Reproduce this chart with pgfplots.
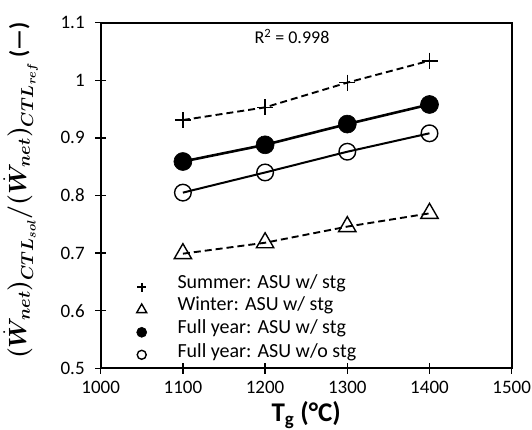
\documentclass[border=0pt]{standalone}
\usepackage{fontspec}
\setmainfont{Carlito}
\usepackage{amsmath}
\usepackage{bm}
\usepackage{pgfplots}
\pgfplotsset{compat=1.18}

\newcommand{\tickfont}{\fontsize{19}{21}\selectfont}
\newcommand{\rfont}{\fontsize{18}{20}\selectfont}
\newcommand{\legfont}{\fontsize{20}{22}\selectfont}
\newcommand{\xlabfont}{\fontsize{27}{29}\selectfont\bfseries}
\newcommand{\ylabfont}{\fontsize{23}{25}\selectfont}

% legend symbol: a single mark inside a fixed 10pt box
\newcommand{\legmark}[2]{%
  \path[draw=none, fill=none] (-5pt,-5pt) rectangle (5pt,5pt);
  \draw[black, solid, #2] plot[mark=#1, #2] coordinates {(0pt,0pt)};}

\begin{document}
\begin{tikzpicture}
\begin{axis}[
  scale only axis,
  width=411pt, height=345.6pt,
  xmin=1000, xmax=1500, ymin=0.5, ymax=1.1,
  xtick={1000,1100,...,1500},
  ytick={0.5,0.6,...,1.1},
  yticklabels={0.5,0.6,0.7,0.8,0.9,1,1.1},
  xticklabels={1000,1100,1200,1300,1400,1500},
  /pgf/number format/assume math mode=true,
  tick align=center,
  major tick length=11pt,
  xtick pos=bottom, ytick pos=left,
  axis line style={line width=1.8pt},
  every tick/.style={line width=1.3pt, black},
  tick label style={font=\tickfont},
  yticklabel style={xshift=-7pt},
  xticklabel style={yshift=-4pt},
  clip=false,
  % legend symbols only; the entry texts are set as nodes below
  legend style={draw=none, fill=none, inner sep=0pt, outer sep=0pt,
    at={(rel axis cs:0,0)}, anchor=south west, xshift=36pt, yshift=5pt,
    row sep=5.5pt,
    nodes={inner sep=0pt, text height=13pt, text depth=4pt}},
]
% Summer, ASU with storage
\addplot[black, line width=1.9pt, dash pattern=on 7pt off 4pt,
  mark=+, mark size=8pt, mark options={solid, line width=1.6pt},
  legend image code/.code={\legmark{+}{mark size=4.5pt, line width=1.2pt}}]
  coordinates {(1100,0.931) (1200,0.953) (1300,0.996) (1400,1.034)};
\addlegendentry{}
% Winter, ASU with storage
\addplot[black, line width=1.9pt, dash pattern=on 7pt off 4pt,
  mark=triangle, mark size=10pt, mark options={solid, line width=1.4pt, fill=white},
  legend image code/.code={\legmark{triangle}{mark size=5.8pt, line width=1.2pt}}]
  coordinates {(1100,0.699) (1200,0.718) (1300,0.746) (1400,0.769)};
\addlegendentry{}
% Full year, ASU with storage
\addplot[black, line width=2.6pt,
  mark=*, mark size=9pt, mark options={solid, fill=black, line width=0.6pt},
  legend image code/.code={\legmark{*}{mark size=5pt, line width=0.6pt, fill=black}}]
  coordinates {(1100,0.859) (1200,0.888) (1300,0.924) (1400,0.958)};
\addlegendentry{}
% Full year, ASU without storage
\addplot[black, line width=2pt,
  mark=o, mark size=8.3pt, mark options={solid, line width=1.4pt, fill=white},
  legend image code/.code={\legmark{o}{mark size=4.5pt, line width=1.2pt}}]
  coordinates {(1100,0.805) (1200,0.840) (1300,0.876) (1400,0.908)};
\addlegendentry{}
% legend texts
\begin{scope}[every node/.style={font=\legfont, anchor=base west, inner sep=0pt}]
\node at ([xshift=76.6pt, yshift=79.3pt]rel axis cs:0,0) {Summer: ASU w/ stg};
\node at ([xshift=76.6pt, yshift=57.3pt]rel axis cs:0,0) {Winter: ASU w/ stg};
\node at ([xshift=76.6pt, yshift=34.3pt]rel axis cs:0,0) {Full year: ASU w/ stg};
\node at ([xshift=76.6pt, yshift=10.8pt]rel axis cs:0,0) {Full year: ASU w/o stg};
\end{scope}
\node[font=\rfont] at (axis cs:1232.7,1.0757) {R\textsuperscript{2} = 0.998};
% axis titles
\node[font=\xlabfont, anchor=base]
  at ([yshift=-53pt]rel axis cs:0.5,0) {T\textsubscript{g} (°C)};
\node[rotate=90, anchor=center, font=\ylabfont]
  at ([xshift=-80pt, yshift=5pt]rel axis cs:0,0.5)
  {$\boldsymbol{(\dot{W}_{net})_{CTL_{sol}}/(\dot{W}_{net})_{CTL_{ref}}}$ \textbf{(---)}};
\coordinate (bl) at (rel axis cs:0,0);
\coordinate (tr) at (rel axis cs:1,1);
\end{axis}
\pgfresetboundingbox
\path ([shift={(-100.7pt,-61.7pt)}]bl) rectangle ([shift={(20.3pt,22.7pt)}]tr);
\end{tikzpicture}
\end{document}
